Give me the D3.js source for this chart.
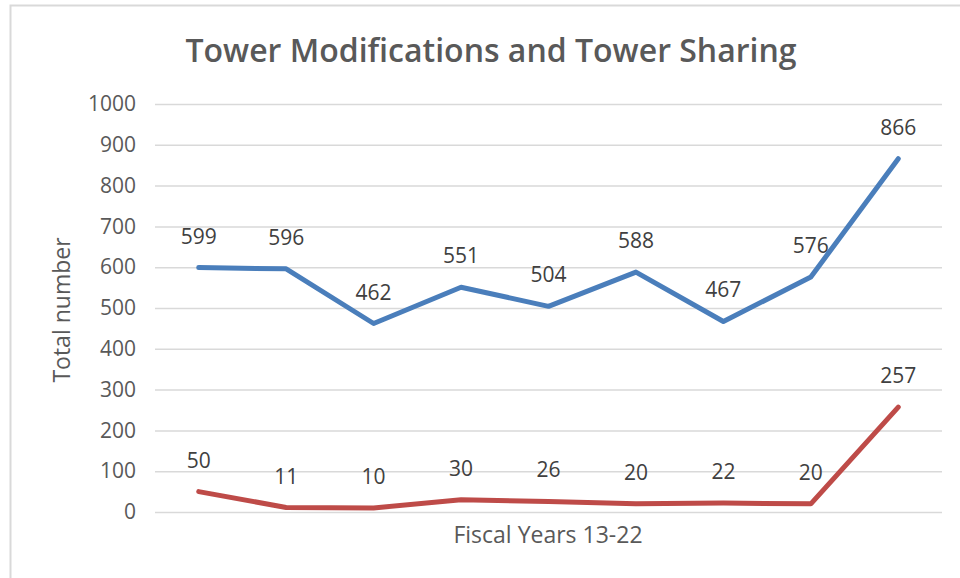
<!DOCTYPE html>
<html>
<head>
<meta charset="utf-8">
<script src="https://cdn.jsdelivr.net/npm/d3@7"></script>
<style>
  body { margin: 0; background: #fff; }
  svg { display: block; }
</style>
</head>
<body>
<svg id="chart"></svg>
<script>
const years = ["FY13", "FY14", "FY15", "FY16", "FY17", "FY18", "FY19", "FY20", "FY21"];
const modifications = [599, 596, 462, 551, 504, 588, 467, 576, 866];
const sharing = [50, 11, 10, 30, 26, 20, 22, 20, 257];
const yTicks = [0, 100, 200, 300, 400, 500, 600, 700, 800, 900, 1000];

const svgWidth = 960, svgHeight = 578;
const margin = {top: 104, right: 18, bottom: 66, left: 155},
    width = svgWidth - margin.left - margin.right,
    height = svgHeight - margin.top - margin.bottom;
const textColor = "#595959";
const font = "'Open Sans', Lato, sans-serif";

const chart = d3.select("#chart")
    .attr("width", svgWidth)
    .attr("height", svgHeight);

// chart frame
chart.append("rect")
    .attr("x", 10.5).attr("y", 5.5)
    .attr("width", 970).attr("height", 600)
    .attr("fill", "#fff")
    .attr("stroke", "#d9d9d9")
    .attr("stroke-width", 2);

chart.append("text")
    .attr("x", 491).attr("y", 62)
    .attr("text-anchor", "middle")
    .attr("fill", textColor)
    .style("font-family", font)
    .style("font-size", "32px")
    .style("font-weight", "600")
    .text("Tower Modifications and Tower Sharing");

const g = chart.append("g")
    .attr("transform", `translate(${margin.left},${margin.top})`);

var xScale = d3.scalePoint().domain(years).range([0, width]).padding(0.5);
var yScale = d3.scaleLinear().domain([0, 1000]).range([height, 0]);

// gridlines
g.append("g")
    .call(d3.axisLeft(yScale).tickValues(yTicks).tickSize(-width).tickFormat(""))
    .call(s => s.select(".domain").remove())
    .call(s => s.selectAll(".tick line").attr("stroke", "#d9d9d9").attr("stroke-width", 1.5));

// y labels
g.append("g")
    .call(d3.axisLeft(yScale).tickValues(yTicks).tickSize(0).tickPadding(19).tickFormat(d3.format("d")))
    .call(s => s.select(".domain").remove())
    .call(s => s.selectAll(".tick text")
        .attr("fill", textColor)
        .style("font-family", font)
        .style("font-size", "21px"));

chart.append("text")
    .attr("transform", "translate(70,310) rotate(-90)")
    .attr("text-anchor", "middle")
    .attr("fill", textColor)
    .style("font-family", font)
    .style("font-size", "23px")
    .text("Total number");

chart.append("text")
    .attr("x", 548).attr("y", 543)
    .attr("text-anchor", "middle")
    .attr("fill", textColor)
    .style("font-family", font)
    .style("font-size", "23px")
    .text("Fiscal Years 13-22");

var valueline = d3.line()
    .x((d, i) => xScale(years[i]))
    .y(d => yScale(d));

const series = [
    {values: modifications, color: "#4a7ebb"},
    {values: sharing, color: "#be4b48"}
];

series.forEach(function(s) {
    g.append("path")
        .datum(s.values)
        .attr("fill", "none")
        .attr("stroke", s.color)
        .attr("stroke-width", 5)
        .attr("stroke-linejoin", "round")
        .attr("stroke-linecap", "round")
        .attr("d", valueline);
    g.selectAll(null)
        .data(s.values)
        .enter().append("text")
        .attr("x", (d, i) => xScale(years[i]))
        .attr("y", d => yScale(d) - 24)
        .attr("text-anchor", "middle")
        .attr("fill", "#404040")
        .style("font-family", font)
        .style("font-size", "21px")
        .text(d => d);
});
</script>
</body>
</html>
